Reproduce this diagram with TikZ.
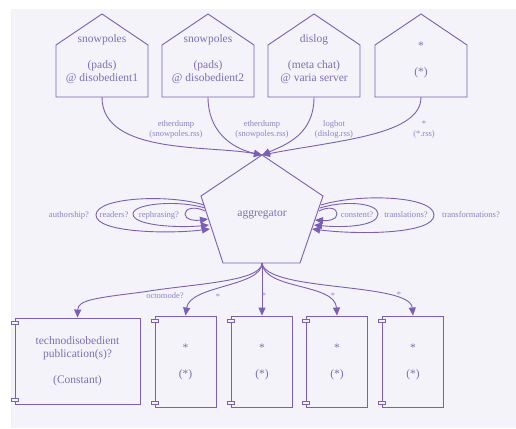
\documentclass[tikz,border=0pt]{standalone}
\usepackage{fontspec}
\setmainfont{Liberation Serif}
\newfontfamily\lserif{Liberation Serif}
\usetikzlibrary{arrows.meta,calc}
\definecolor{bgc}{HTML}{F4F3F9}
\definecolor{lnc}{HTML}{7B5EB5}
\definecolor{txc}{HTML}{7F6DB6}
\definecolor{lbc}{HTML}{8D84C2}
\begin{document}
\begin{tikzpicture}[x=1pt,y=-1pt,
  stroke/.style={draw=lnc,line width=0.9pt},
  arr/.style={stroke,-{Triangle[length=8pt,width=7pt]}},
  house/.style={align=center,inner sep=0pt,minimum width=92,minimum height=75,text=txc,font=\lserif\fontsize{11.5}{13}\selectfont},
  comp/.style={stroke,align=center,inner sep=0pt,minimum width=61,minimum height=91,text=txc,font=\lserif\fontsize{11.5}{13}\selectfont},
  tab/.style={draw=lnc,line width=0.8pt,fill=bgc},
  elab/.style={align=center,inner sep=0pt,text=lbc,font=\lserif\fontsize{8.5}{9.5}\selectfont},
  llab/.style={inner sep=0pt,text=lbc,font=\lserif\fontsize{8.6}{10}\selectfont},
  main/.style={inner sep=0pt,text=txc,font=\lserif\fontsize{11.5}{13}\selectfont}]
\useasboundingbox (0,0) rectangle (516,428);
\fill[bgc] (11,9) rectangle (516,428);
\draw[black!6,line width=0.6pt] (11,9) -- (11,428);

% houses
\node[house] (h1) at (102,59.5) {snowpoles\\[13pt](pads)\\@ disobedient1};
\node[house] (h2) at (208,59.5) {snowpoles\\[13pt](pads)\\@ disobedient2};
\node[house] (h3) at (314,59.5) {dislog\\[13pt](meta chat)\\@ varia server};
\node[house] (h4) at (421,59.5) {*\\[13pt](*)};
\foreach \n in {h1,h2,h3,h4}{
  \draw[stroke] ($(\n.center)+(-46,37.5)$) -- ($(\n.center)+(-46,-14.5)$) -- ($(\n.center)+(0,-45.5)$) -- ($(\n.center)+(46,-14.5)$) -- ($(\n.center)+(46,37.5)$) -- cycle;
}

% aggregator
\node[main] (agg) at (262,215) {aggregator};
\coordinate (aggN) at (262,155);
\coordinate (aggS) at (262,263);
\draw[stroke] (aggN) -- (323,196) -- (300,263) -- (223,263) -- (201,196) -- cycle;

% edges in
\draw[arr] (h1.south) .. controls (102,155) and (210,145) .. (aggN);
\draw[arr] (h2.south) .. controls (208,130) and (230,148) .. (aggN);
\draw[arr] (h3.south) .. controls (314,135) and (285,145) .. (aggN);
\draw[arr] (h4.south) .. controls (421,135) and (340,140) .. (aggN);
\node[elab] (e1) at (176,129.5) {etherdump\\(snowpoles.rss)};
\node[elab] (e2) at (262,129.5) {etherdump\\(snowpoles.rss)};
\node[elab] (e3) at (334,129.5) {logbot\\(dislog.rss)};
\node[elab] (e4) at (424,129.5) {*\\(*.rss)};

% left loops
\coordinate (l1s) at (205,211); \coordinate (l1e) at (208,219);
\coordinate (l2s) at (205,208); \coordinate (l2e) at (209,225);
\coordinate (l3s) at (204,205); \coordinate (l3e) at (210,229);
\draw[arr] (l1s) .. controls (195,206) and (185,208) .. (185,214) .. controls (185,220) and (195,221) .. (l1e);
\draw[arr] (l2s) .. controls (180,200) and (133,203) .. (133,214) .. controls (133,226) and (180,228) .. (l2e);
\draw[arr] (l3s) .. controls (170,194) and (96,197) .. (96,215) .. controls (96,233) and (170,234) .. (l3e);
\node[llab] (r1) at (159,215) {rephrasing?};
\node[llab] (r2) at (114,215) {readers?};
\node[llab] (r3) at (69,215) {authorship?};

% right loops
\coordinate (q1s) at (319,211); \coordinate (q1e) at (315,220);
\coordinate (q2s) at (320,208); \coordinate (q2e) at (314,225);
\coordinate (q3s) at (321,205); \coordinate (q3e) at (312,229);
\draw[arr] (q1s) .. controls (329,206) and (337,208) .. (337,214) .. controls (337,220) and (328,221) .. (q1e);
\draw[arr] (q2s) .. controls (345,200) and (378,203) .. (378,214) .. controls (378,226) and (345,228) .. (q2e);
\draw[arr] (q3s) .. controls (360,193) and (434,196) .. (434,215) .. controls (434,234) and (360,235) .. (q3e);
\node[llab] (s1) at (357,215) {constent?};
\node[llab] (s2) at (406,215) {translations?};
\node[llab] (s3) at (471,215) {transformations?};

% boxes
\node[comp,minimum width=125,minimum height=86] (b1) at (77.5,361) {technodisobedient\\publication(s)?\\[13pt](Constant)};
\node[comp] (b2) at (185.5,361.5) {*\\[13pt](*)};
\node[comp] (b3) at (262,361.5) {*\\[13pt](*)};
\node[comp] (b4) at (337,361.5) {*\\[13pt](*)};
\node[comp] (b5) at (413,361.5) {*\\[13pt](*)};
\foreach \n in {b1,b2,b3,b4,b5}{
  \draw[tab] ($(\n.north west)+(-3.5,3.5)$) rectangle ($(\n.north west)+(3.5,6.5)$);
  \draw[tab] ($(\n.south west)+(-3.5,-6.5)$) rectangle ($(\n.south west)+(3.5,-3.5)$);
}

% edges out
\coordinate (o1) at (143,292);
\draw[stroke] (aggS) .. controls (262,282) and (190,284) .. (o1);
\draw[arr] (o1) .. controls (95,298) and (78,300) .. (b1.north);
\draw[arr] (aggS) .. controls (262,287) and (190,285) .. (b2.north);
\draw[arr] (aggS) -- (b3.north);
\draw[arr] (aggS) .. controls (264,290) and (335,283) .. (b4.north);
\draw[arr] (aggS) .. controls (266,292) and (410,282) .. (b5.north);
\node[elab] (m1) at (165,296) {octomode?};
\node[elab] (m2) at (218,297) {*};
\node[elab] (m3) at (264,296) {*};
\node[elab] (m4) at (333,296) {*};
\node[elab] (m5) at (399,295) {*};
\end{tikzpicture}
\end{document}
